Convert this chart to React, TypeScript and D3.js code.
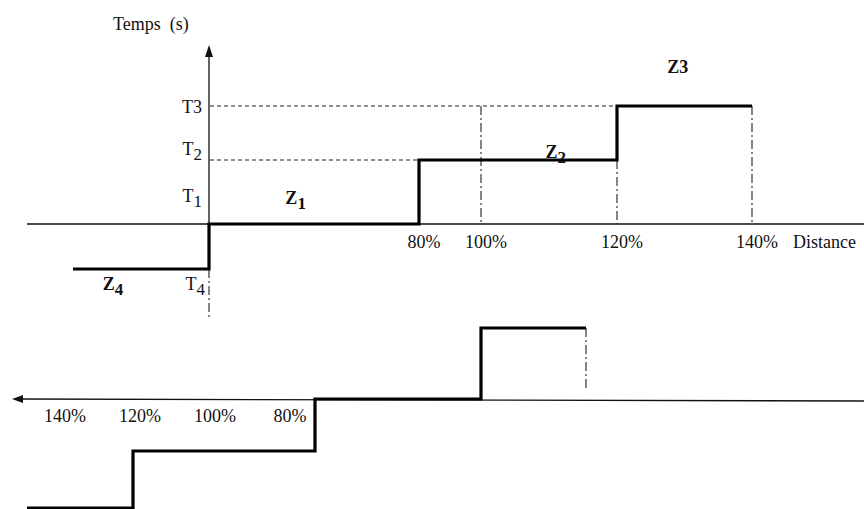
import React from "react";
import * as d3 from "d3";

const W = 864;
const H = 509;

// Top diagram: relay at A — zone reaches (% of protected line) and time levels
const zoneNames = ["Z4", "Z1", "Z2", "Z3"];
const zoneStart = [-52, 0, 80, 120];
const zoneEnd = [0, 80, 120, 140];
const zoneLevel = [-1, 0, 1, 2]; // T4, T1, T2, T3
const timeNames = ["T4", "T1", "T2", "T3"];
const topTicks = [80, 100, 120, 140];
const guidePct = [100, 120, 140];
const guideLevel = [2, 1, 2];

// Bottom diagram: relay at B, looking back towards A
const backStart = [-52, 0, 80, 120];
const backEnd = [0, 80, 120, 140];
const backLevel = [-1, 0, 1, 2];
const bottomTicks = [140, 120, 100, 80];

const FONT = "'Liberation Serif', 'Times New Roman', serif";
const INK = "#111";
const FS = 18;

export default function App() {
  const xTop = d3.scaleLinear().domain([-52, 0, 80, 100, 120, 140]).range([73, 209, 419, 481, 617, 752]);
  const yTop = d3.scaleLinear().domain([-1, 0, 1, 2]).range([269, 224, 160, 106]);
  const xBot = d3.scaleLinear().domain([-52, 0, 80, 120, 140]).range([586, 481, 315, 133, 27]);
  const yBot = d3.scaleLinear().domain([-1, 0, 1, 2]).range([328, 399, 451, 508]);
  const xBotLabel = d3.scaleLinear().domain([140, 80]).range([65, 290]);

  const topPts: [number, number][] = zoneStart.map((s, i) => [s, zoneLevel[i]] as [number, number]);
  topPts.push([zoneEnd[zoneEnd.length - 1], zoneLevel[zoneLevel.length - 1]]);
  const botPts: [number, number][] = backStart.map((s, i) => [s, backLevel[i]] as [number, number]);
  botPts.push([backEnd[backEnd.length - 1], backLevel[backLevel.length - 1]]);

  const topLine = d3.line<[number, number]>().x((d) => xTop(d[0])).y((d) => yTop(d[1])).curve(d3.curveStepAfter);
  const botLine = d3.line<[number, number]>().x((d) => xBot(d[0])).y((d) => yBot(d[1])).curve(d3.curveStepAfter);

  const x0 = xTop(0);
  const y0 = yTop(0);
  const yb0 = yBot(0);
  const dashDot = "9,3,2,3";

  const sub = (main: string, s: string, bold = false) => (
    <>
      {main}
      <tspan dy={5} fontSize={FS - 1} fontWeight={bold ? 700 : 400}>{s}</tspan>
    </>
  );

  // label placements per time level
  const tLabelDy: Record<string, number> = { T1: -22, T2: -5, T3: 7, T4: 21 };
  const zLabelPos: Record<string, [number, number]> = {
    Z4: [xTop(-52) + 40, yTop(-1) + 21],
    Z1: [xTop(33), yTop(0) - 20],
    Z2: [xTop(111), yTop(1) - 2],
    Z3: [xTop(129), yTop(2) - 33],
  };

  return (
    <svg width={W} height={H} style={{ position: "absolute", left: 0, top: 0, background: "#fff" }} fontFamily={FONT}>
      <rect width={W} height={H} fill="#fff" />
      {/* ===== top diagram ===== */}
      <line x1={27} x2={W} y1={y0} y2={y0} stroke={INK} strokeWidth={1.3} />
      <line x1={x0} x2={x0} y1={56} y2={y0} stroke={INK} strokeWidth={1.3} />
      <path d={`M${x0},45 L${x0 - 4},57 L${x0 + 4},57 Z`} fill={INK} />
      <text x={113} y={30} fontSize={FS} fill={INK}>Temps{"\u00a0\u00a0"}(s)</text>

      {/* dashed time levels */}
      <line x1={x0 + 1} x2={xTop(120)} y1={yTop(2)} y2={yTop(2)} stroke="#222" strokeWidth={1.2} strokeDasharray="4,3" />
      <line x1={x0 + 1} x2={xTop(80)} y1={yTop(1)} y2={yTop(1)} stroke="#222" strokeWidth={1.2} strokeDasharray="4,3" />

      {/* dash-dot reach guides */}
      {guidePct.map((p, i) => (
        <line key={p} x1={xTop(p)} x2={xTop(p)} y1={yTop(guideLevel[i])} y2={y0} stroke="#222" strokeWidth={1.1} strokeDasharray={dashDot} />
      ))}
      <line x1={x0} x2={x0} y1={yTop(-1)} y2={yTop(-1) + 49} stroke="#222" strokeWidth={1.1} strokeDasharray={dashDot} />

      {/* step characteristic */}
      <path d={topLine(topPts) || ""} fill="none" stroke="#000" strokeWidth={3.2} />

      {/* time labels */}
      {timeNames.map((t, i) => (
        <text key={t} x={t === "T4" ? x0 - 4 : x0 - 7} y={yTop(zoneLevel[i]) + tLabelDy[t]} textAnchor="end" fontSize={FS} fill={INK}>
          {t === "T3" ? t : sub(t[0], t.slice(1))}
        </text>
      ))}

      {/* zone labels */}
      {zoneNames.map((z) => (
        <text key={z} x={zLabelPos[z][0]} y={zLabelPos[z][1]} textAnchor="middle" fontSize={FS} fontWeight={700} fill={INK}>
          {z === "Z3" ? z : sub(z[0], z.slice(1), true)}
        </text>
      ))}

      {/* distance tick labels */}
      {topTicks.map((p) => (
        <text key={p} x={xTop(p) + 5} y={248} textAnchor="middle" fontSize={FS} fill={INK}>{p}%</text>
      ))}
      <text x={793} y={248} fontSize={FS} fill={INK}>Distance</text>

      {/* ===== bottom diagram ===== */}
      <line x1={20} x2={W} y1={yb0} y2={yb0 + 2} stroke={INK} strokeWidth={1.3} />
      <path d={`M12,${yb0} L23,${yb0 - 4} L23,${yb0 + 4} Z`} fill={INK} />
      <line x1={xBot(-52)} x2={xBot(-52)} y1={yBot(-1)} y2={yb0 - 9} stroke="#222" strokeWidth={1.1} strokeDasharray={dashDot} />
      <path d={botLine(botPts) || ""} fill="none" stroke="#000" strokeWidth={3.2} />
      {bottomTicks.map((p) => (
        <text key={p} x={xBotLabel(p)} y={422} textAnchor="middle" fontSize={FS} fill={INK}>{p}%</text>
      ))}
    </svg>
  );
}
